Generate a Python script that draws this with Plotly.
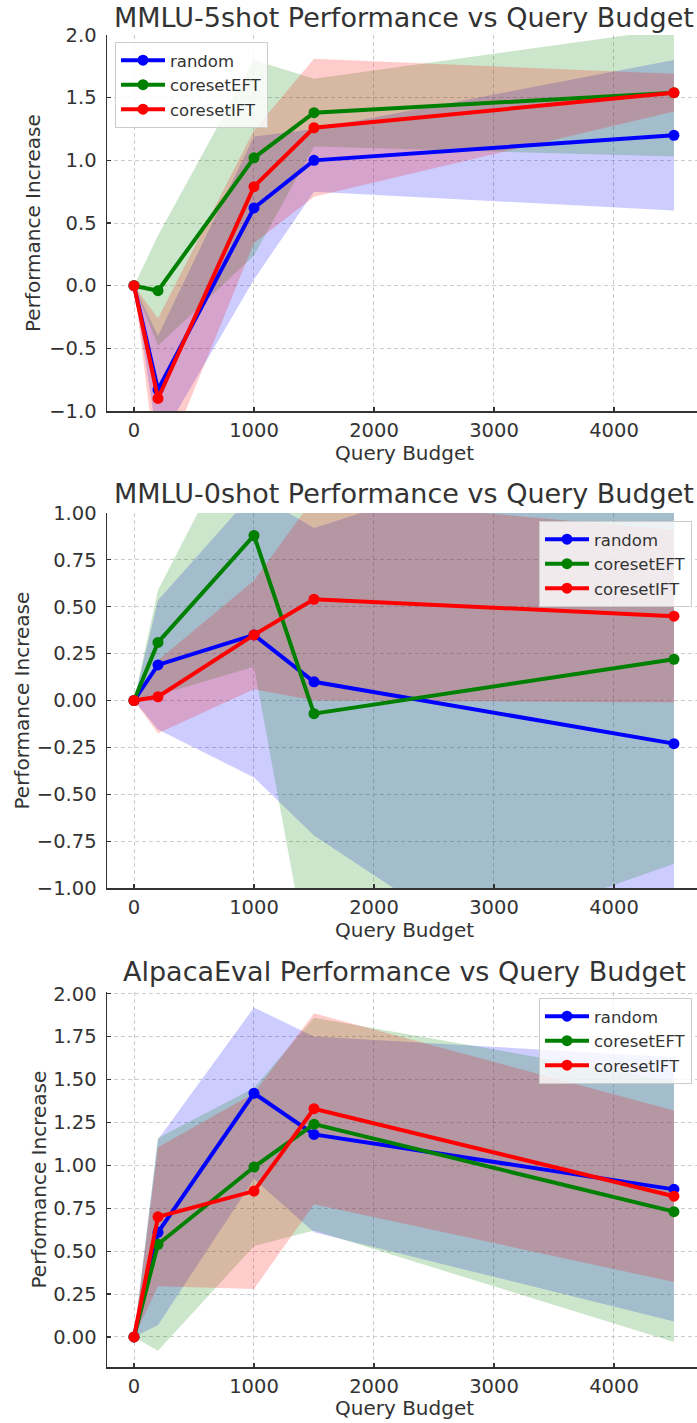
import plotly.graph_objects as go

# ---------------- data ----------------
budget = [0, 200, 1000, 1500, 4500]
methods = ["random", "coresetEFT", "coresetIFT"]
x_ticks = [0, 1000, 2000, 3000, 4000]

# MMLU-5shot
mmlu5_random_mean = [0.0, -0.83, 0.62, 1.00, 1.20]
mmlu5_random_std = [0.0, 0.43, 0.57, 0.25, 0.60]
mmlu5_eft_mean = [0.0, -0.04, 1.02, 1.38, 1.54]
mmlu5_eft_std = [0.0, 0.44, 0.78, 0.27, 0.51]
mmlu5_ift_mean = [0.0, -0.90, 0.79, 1.26, 1.54]
mmlu5_ift_std = [0.0, 0.64, 0.45, 0.55, 0.15]
mmlu5_yticks = [-1.0, -0.5, 0.0, 0.5, 1.0, 1.5, 2.0]

# MMLU-0shot
mmlu0_random_mean = [0.0, 0.19, 0.35, 0.10, -0.23]
mmlu0_random_std = [0.0, 0.345, 0.76, 0.82, 1.76]
mmlu0_eft_mean = [0.0, 0.31, 0.88, -0.07, 0.22]
mmlu0_eft_std = [0.0, 0.28, 0.70, 1.48, 1.09]
mmlu0_ift_mean = [0.0, 0.02, 0.35, 0.54, 0.45]
mmlu0_ift_std = [0.0, 0.195, 0.29, 0.54, 0.46]
mmlu0_yticks = [-1.0, -0.75, -0.5, -0.25, 0.0, 0.25, 0.5, 0.75, 1.0]

# AlpacaEval
alpaca_random_mean = [0.0, 0.61, 1.42, 1.18, 0.86]
alpaca_random_std = [0.0, 0.54, 0.50, 0.57, 0.77]
alpaca_eft_mean = [0.0, 0.54, 0.99, 1.24, 0.73]
alpaca_eft_std = [0.0, 0.62, 0.46, 0.62, 0.76]
alpaca_ift_mean = [0.0, 0.70, 0.85, 1.33, 0.82]
alpaca_ift_std = [0.0, 0.405, 0.57, 0.556, 0.50]
alpaca_yticks = [0.0, 0.25, 0.5, 0.75, 1.0, 1.25, 1.5, 1.75, 2.0]

titles = ["MMLU-5shot Performance vs Query Budget",
          "MMLU-0shot Performance vs Query Budget",
          "AlpacaEval Performance vs Query Budget"]

# ---------------- styling / layout ----------------
W, H = 697, 1423
FONT = "DejaVu Sans"
TXT = "#333333"
line_colors = ["#0000ff", "#008000", "#ff0000"]
fill_colors = ["rgba(0,0,255,0.2)", "rgba(0,128,0,0.2)", "rgba(255,0,0,0.2)"]

panels = [
    dict(means=[mmlu5_random_mean, mmlu5_eft_mean, mmlu5_ift_mean],
         stds=[mmlu5_random_std, mmlu5_eft_std, mmlu5_ift_std],
         yrange=[-1.0, 2.0], yticks=mmlu5_yticks, fmt=".1f",
         top=35, bottom=411, title_y=17, xlabel_y=453, ylabel_x=33,
         legend=dict(x=115 / W, y=1 - 42 / H, xanchor="left", yanchor="top")),
    dict(means=[mmlu0_random_mean, mmlu0_eft_mean, mmlu0_ift_mean],
         stds=[mmlu0_random_std, mmlu0_eft_std, mmlu0_ift_std],
         yrange=[-1.0, 1.0], yticks=mmlu0_yticks, fmt=".2f",
         top=513, bottom=888, title_y=493, xlabel_y=930, ylabel_x=22,
         legend=dict(x=692 / W, y=1 - 521 / H, xanchor="right", yanchor="top")),
    dict(means=[alpaca_random_mean, alpaca_eft_mean, alpaca_ift_mean],
         stds=[alpaca_random_std, alpaca_eft_std, alpaca_ift_std],
         yrange=[-0.175, 2.01], yticks=alpaca_yticks, fmt=".2f",
         top=992, bottom=1367, title_y=971, xlabel_y=1408, ylabel_x=38,
         legend=dict(x=692 / W, y=1 - 998 / H, xanchor="right", yanchor="top")),
]

x_left_px = 107
x_range = [-225, 4692]
x_center_px = (107 + 701) / 2

fig = go.Figure()
annotations = []
layout_axes = {}

for k, p in enumerate(panels):
    sfx = "" if k == 0 else str(k + 1)
    xa, ya = "x" + sfx, "y" + sfx
    leg = "legend" + sfx
    # bands
    for m in range(3):
        mean, std = p["means"][m], p["stds"][m]
        upper = [a + b for a, b in zip(mean, std)]
        lower = [a - b for a, b in zip(mean, std)]
        fig.add_trace(go.Scatter(
            x=budget + budget[::-1], y=upper + lower[::-1],
            fill="toself", fillcolor=fill_colors[m], mode="lines",
            line=dict(width=0, color=fill_colors[m]),
            hoverinfo="skip", showlegend=False, xaxis=xa, yaxis=ya))
    # lines
    for m in range(3):
        fig.add_trace(go.Scatter(
            x=budget, y=p["means"][m], mode="lines+markers", name=methods[m],
            line=dict(color=line_colors[m], width=4),
            marker=dict(color=line_colors[m], size=11),
            xaxis=xa, yaxis=ya, legend=leg, showlegend=True))

    ydom = [1 - p["bottom"] / H, 1 - p["top"] / H]
    common = dict(showline=True, linecolor=TXT, linewidth=1.5,
                  ticks="inside", ticklen=4, tickwidth=1.2, tickcolor=TXT,
                  showgrid=True, gridcolor="#cccccc", gridwidth=1,
                  griddash="4px,3px", zeroline=False, automargin=False,
                  tickfont=dict(family=FONT, size=19.5, color=TXT))
    layout_axes["xaxis" + sfx] = dict(
        common, domain=[x_left_px / W, 1], range=x_range, anchor=ya,
        tickmode="array", tickvals=x_ticks, ticktext=[str(v) for v in x_ticks],
        ticklabelstandoff=1)
    layout_axes["yaxis" + sfx] = dict(
        common, domain=ydom, range=p["yrange"], anchor=xa,
        tickmode="array", tickvals=p["yticks"], tickformat=p["fmt"],
        ticklabelstandoff=5)
    layout_axes[leg] = dict(
        p["legend"], bgcolor="rgba(255,255,255,0.8)", bordercolor="#cccccc",
        borderwidth=1, font=dict(family=FONT, size=16.5, color=TXT),
        tracegroupgap=0, itemwidth=44)

    annotations.append(dict(text=titles[k], xref="paper", yref="paper",
                            x=x_center_px / W, y=1 - p["title_y"] / H,
                            xanchor="center", yanchor="middle", showarrow=False,
                            font=dict(family=FONT, size=27, color=TXT)))
    annotations.append(dict(text="Query Budget", xref="paper", yref="paper",
                            x=x_center_px / W, y=1 - p["xlabel_y"] / H,
                            xanchor="center", yanchor="middle", showarrow=False,
                            font=dict(family=FONT, size=20, color=TXT)))
    annotations.append(dict(text="Performance Increase", xref="paper", yref="paper",
                            x=p["ylabel_x"] / W,
                            y=1 - (p["top"] + p["bottom"]) / 2 / H,
                            xanchor="center", yanchor="middle", textangle=-90,
                            showarrow=False,
                            font=dict(family=FONT, size=20, color=TXT)))

fig.update_layout(width=W, height=H, margin=dict(l=0, r=0, t=0, b=0),
                  paper_bgcolor="white", plot_bgcolor="white",
                  hovermode=False,
                  annotations=annotations, **layout_axes)

fig.write_html("out.html",
               config={"displayModeBar": False, "staticPlot": True},
               post_script="document.body.style.margin='0px';"
                           "document.body.style.overflow='hidden';")
